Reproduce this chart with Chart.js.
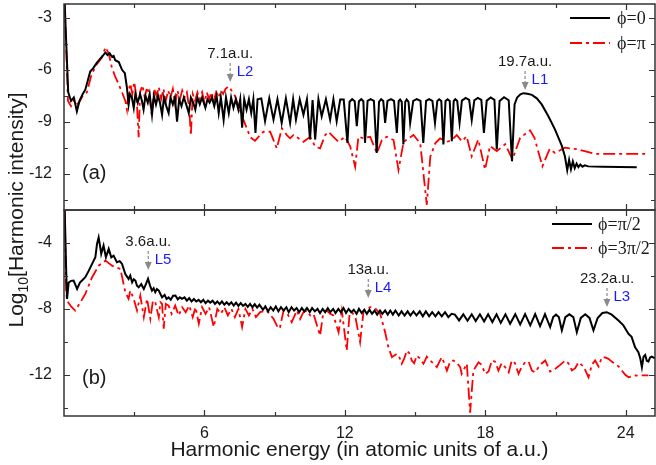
<!DOCTYPE html>
<html>
<head>
<meta charset="utf-8">
<script src="https://cdn.jsdelivr.net/npm/chart.js@4/dist/chart.umd.min.js"></script>
<style>
  html, body { margin: 0; padding: 0; background: #fff; }
  #wrap { width: 656px; height: 465px; }
</style>
</head>
<body>
<div id="wrap"><canvas id="hhg" width="656" height="465"></canvas></div>
<script>
// harmonic spectra, [energy in a.u., log10 intensity]
const phi0 = [
  [0.03,-2.2],[0.1,-4.6],[0.18,-7.3],[0.3,-7.8],[0.42,-7.6],[0.55,-8.4],[0.66,-7.8],[0.8,-7.4],[0.91,-7.15],[1.0,-6.7],
  [1.12,-6.1],[1.25,-5.9],[1.4,-5.6],[1.55,-5.35],[1.68,-5.15],[1.77,-5.0],[1.86,-5.15],[1.95,-5.05],[2.05,-5.25],[2.12,-5.2],
  [2.19,-5.45],[2.34,-5.55],[2.48,-6.0],[2.6,-6.2],[2.69,-7.05],[2.76,-8.0],
  [2.82,-7.4],[2.9,-7.6],[2.98,-8.2],[3.05,-7.4],[3.15,-7.9],[3.25,-7.4],[3.33,-7.8],[3.4,-8.3],[3.48,-7.5],[3.58,-7.9],
  [3.66,-7.4],[3.76,-8.6],[3.84,-7.5],[3.93,-8.0],[4.02,-7.5],[4.1,-7.9],[4.19,-8.6],[4.27,-7.6],[4.37,-8.1],[4.47,-8.5],
  [4.55,-7.6],[4.65,-8.0],[4.74,-7.6],[4.83,-9.0],[4.92,-7.7],[5.02,-8.1],[5.12,-7.6],[5.22,-8.0],[5.33,-8.5],[5.42,-7.6],
  [5.52,-7.9],[5.61,-8.3],[5.7,-7.6],[5.8,-8.0],[5.9,-7.6],[6.04,-8.2],[6.13,-7.7],[6.22,-7.9],[6.32,-7.6],[6.42,-8.1],
  [6.52,-7.5],[6.61,-8.5],[6.7,-7.6],[6.82,-8.9],[6.92,-7.6],[7.04,-8.5],[7.14,-7.6],[7.24,-8.2],[7.34,-7.7],[7.45,-8.3],
  [7.53,-7.7],[7.61,-9.35],[7.7,-7.7],[7.8,-8.3],[7.9,-7.7],[8.0,-8.5],[8.09,-7.7],[8.18,-9.65],[8.27,-7.7],
  [8.43,-7.65],[8.59,-8.97],[8.77,-7.65],[8.95,-8.88],[9.12,-7.7],[9.3,-9.07],[9.48,-7.65],[9.66,-9.07],[9.79,-7.7],[9.91,-8.88],
  [10.07,-7.7],[10.23,-8.6],[10.38,-7.7],[10.51,-10.03],[10.62,-7.75],[10.73,-10.03],[10.87,-7.7],[11.01,-8.69],[11.19,-7.7],[11.37,-8.88],
  [11.51,-7.7],[11.65,-8.97],[11.8,-7.72],[11.95,-7.72],[12.11,-10.22],[12.2,-7.85],[12.31,-7.7],[12.42,-7.82],[12.51,-9.26],[12.6,-7.82],
  [12.7,-7.7],[12.79,-7.82],[12.86,-10.22],[12.97,-7.8],[13.1,-7.7],[13.24,-7.8],[13.36,-10.8],[13.46,-7.85],[13.55,-7.7],[13.64,-7.8],
  [13.72,-9.07],[13.82,-7.8],[13.97,-7.7],[14.1,-7.8],[14.22,-9.65],[14.3,-7.8],[14.36,-7.72],[14.43,-7.85],[14.5,-10.32],[14.58,-7.85],
  [14.64,-7.72],[14.72,-7.85],[14.79,-9.07],[14.92,-7.8],[15.07,-7.7],[15.23,-7.8],[15.35,-10.22],[15.47,-7.8],[15.6,-7.7],[15.74,-7.8],
  [15.85,-9.07],[15.95,-7.8],[16.03,-7.7],[16.12,-7.8],[16.21,-10.32],[16.3,-7.8],[16.39,-7.7],[16.48,-7.8],[16.57,-10.13],[16.65,-7.8],
  [16.72,-7.7],[16.8,-7.8],[16.9,-9.07],[17.0,-7.78],[17.16,-7.62],[17.31,-7.74],[17.42,-8.9],[17.53,-7.76],[17.68,-7.62],[17.83,-7.74],
  [17.94,-9.65],[18.06,-7.78],[18.23,-7.6],[18.39,-7.74],[18.49,-10.6],[18.61,-7.8],[18.8,-7.58],[19.0,-7.76],[19.14,-11.28],[19.25,-8.0],
  [19.36,-7.6],[19.5,-7.42],[19.63,-7.35],[19.8,-7.38],[19.99,-7.45],[20.2,-7.65],[20.41,-8.0],[20.7,-8.7],[20.98,-9.46],[21.15,-10.0],
  [21.27,-10.4],[21.4,-11.0],[21.5,-11.8],[21.58,-11.2],[21.66,-11.75],[21.74,-11.3],[21.82,-11.68],[21.9,-11.42],[21.98,-11.62],[22.06,-11.47],
  [22.15,-11.6],[22.25,-11.52],[22.4,-11.58],[23.0,-11.6],[24.47,-11.63]
];

const phiPi = [
  [0.03,-2.2],[0.1,-5.0],[0.17,-7.8],[0.3,-8.1],[0.45,-7.7],[0.6,-8.0],[0.8,-7.5],[0.98,-7.3],[1.15,-6.4],[1.34,-5.8],
  [1.5,-5.5],[1.62,-5.3],[1.77,-4.7],[1.91,-5.05],[2.05,-5.9],[2.19,-6.4],[2.34,-6.85],[2.48,-7.3],[2.62,-7.8],[2.69,-8.3],
  [2.75,-7.3],[2.83,-6.8],[2.92,-7.4],[3.0,-6.7],[3.1,-7.6],[3.19,-9.9],[3.25,-7.3],[3.35,-6.9],[3.45,-7.6],[3.55,-7.0],
  [3.65,-7.5],[3.75,-8.6],[3.85,-7.1],[3.95,-7.5],[4.05,-7.0],[4.15,-7.7],[4.25,-7.1],[4.35,-7.8],[4.45,-7.2],[4.55,-7.6],
  [4.65,-7.1],[4.75,-8.0],[4.85,-7.2],[4.95,-7.7],[5.05,-7.2],[5.15,-7.6],[5.25,-7.3],[5.35,-8.2],[5.42,-9.8],[5.5,-7.4],
  [5.6,-7.8],[5.7,-7.3],[5.8,-7.7],[5.9,-7.3],[6.0,-7.9],[6.1,-7.3],[6.2,-7.7],[6.3,-7.3],[6.4,-7.8],[6.5,-7.3],
  [6.6,-7.6],[6.7,-7.2],[6.8,-7.4],[6.9,-7.1],[7.04,-6.96],[7.3,-7.5],[7.61,-8.7],[7.96,-9.9],[8.16,-10.1],
  [8.38,-9.77],[8.52,-9.58],[8.81,-9.58],[8.95,-10.06],[9.09,-10.54],[9.31,-9.38],[9.52,-9.77],[9.66,-9.96],[9.8,-9.77],[10.02,-9.96],
  [10.23,-10.16],[10.52,-9.87],[10.73,-10.44],[10.94,-10.54],[11.16,-9.77],[11.3,-9.58],[11.51,-9.87],[11.73,-10.16],[12.01,-9.87],[12.23,-10.44],
  [12.44,-11.6],[12.58,-9.87],[12.8,-9.96],[13.08,-9.87],[13.37,-10.82],[13.58,-10.06],[13.79,-9.87],[14.08,-10.06],[14.29,-11.79],[14.51,-10.16],
  [14.72,-9.96],[14.93,-9.77],[15.22,-10.25],[15.5,-13.8],[15.65,-11.02],[15.86,-10.25],[16.07,-9.96],[16.36,-10.16],[16.57,-10.06],[16.78,-9.77],
  [17.0,-10.13],[17.2,-9.84],[17.42,-11.0],[17.7,-10.03],[17.99,-11.76],[18.2,-10.4],[18.49,-10.7],[18.85,-10.3],[19.16,-11.18],[19.49,-9.93],
  [19.91,-9.5],[20.1,-9.93],[20.44,-11.57],[20.75,-10.57],[20.98,-10.8],[21.4,-10.5],[21.98,-10.6],[22.7,-10.86],[24.96,-10.86]
];

const phiHalfPi = [
  [0.03,-2.0],[0.09,-5.5],[0.13,-7.4],[0.2,-6.4],[0.3,-6.3],[0.41,-6.28],[0.56,-6.79],[0.68,-6.4],[0.77,-6.28],[0.91,-6.08],
  [1.06,-5.68],[1.2,-5.27],[1.34,-4.87],[1.41,-4.06],[1.48,-3.66],[1.55,-4.27],[1.59,-4.67],[1.69,-4.16],[1.79,-4.87],[1.91,-4.36],
  [2.02,-4.87],[2.12,-4.77],[2.26,-5.17],[2.38,-5.1],[2.48,-5.27],[2.62,-5.88],[2.76,-6.18],[2.83,-5.98],[2.91,-6.39],[2.98,-6.2],
  [3.05,-6.28],[3.12,-6.6],[3.19,-6.69],[3.3,-6.5],[3.41,-6.79],[3.5,-6.5],[3.59,-6.18],[3.68,-6.6],[3.76,-6.89],[3.83,-6.75],
  [3.9,-6.99],[3.97,-6.8],[4.05,-6.89],[4.12,-7.1],[4.19,-7.3],[4.3,-7.15],[4.38,-7.4],[4.47,-7.3],[4.56,-7.45],[4.66,-7.2],
  [4.76,-7.19],[4.86,-7.42],[4.95,-7.3],[5.04,-7.39],[5.15,-7.3],[5.25,-7.5],[5.35,-7.35],[5.45,-7.55],[5.55,-7.4],[5.65,-7.55],
  [5.75,-7.45],[5.85,-7.6],[5.95,-7.45],[6.05,-7.65],[6.15,-7.5],[6.25,-7.62],[6.35,-7.5],[6.45,-7.7],[6.55,-7.55],[6.65,-7.72],
  [6.75,-7.55],[6.85,-7.75],[6.95,-7.6],[7.05,-7.75],[7.15,-7.6],[7.25,-7.8],[7.35,-7.62],[7.45,-7.82],[7.55,-7.65],[7.65,-7.82],
  [7.75,-7.7],[7.85,-7.88],[7.95,-7.7],[8.05,-7.9],[8.15,-7.72],[8.25,-7.92],[8.35,-7.75],
  [8.5,-8.05],[8.6,-7.85],[8.72,-8.15],[8.83,-7.9],[8.94,-8.1],[9.05,-7.85],[9.16,-8.15],[9.27,-7.9],[9.38,-8.1],[9.5,-7.9],
  [9.6,-8.2],[9.72,-7.9],[9.83,-8.1],[9.94,-7.95],[10.05,-8.2],[10.16,-7.95],[10.27,-8.15],[10.38,-7.95],[10.5,-8.2],[10.6,-7.95],
  [10.72,-8.15],[10.83,-8.0],[10.94,-8.25],[11.05,-8.0],[11.16,-8.2],[11.27,-7.95],[11.38,-8.2],[11.5,-8.0],[11.6,-8.25],[11.72,-8.0],
  [11.83,-8.2],[11.94,-7.95],[12.05,-8.25],[12.16,-8.0],[12.27,-8.2],[12.38,-8.05],[12.5,-8.3],[12.6,-8.0],[12.72,-8.25],[12.83,-8.05],
  [12.94,-8.3],[13.05,-8.05],[13.16,-8.3],[13.27,-8.1],[13.38,-8.35],[13.5,-8.1],[13.6,-8.3],[13.72,-8.1],[13.83,-8.35],[13.94,-8.1],
  [14.05,-8.35],[14.16,-8.1],[14.3,-8.4],[14.42,-8.15],[14.55,-8.4],[14.68,-8.15],[14.8,-8.4],[14.93,-8.15],[15.06,-8.4],[15.2,-8.15],
  [15.33,-8.45],[15.46,-8.15],[15.6,-8.45],[15.73,-8.2],[15.87,-8.45],[16.0,-8.2],[16.14,-8.45],[16.28,-8.2],[16.42,-8.5],[16.56,-8.3],
  [16.7,-8.35],[16.88,-8.7],[17.06,-8.33],[17.24,-8.72],[17.42,-8.33],[17.59,-8.74],[17.77,-8.33],[17.95,-8.76],[18.12,-8.33],[18.3,-8.8],
  [18.48,-8.33],[18.66,-8.85],[18.86,-8.33],[19.06,-8.9],[19.28,-8.32],[19.49,-8.95],[19.7,-8.32],[19.92,-9.0],[20.13,-8.32],[20.34,-9.05],
  [20.55,-8.32],[20.77,-9.1],[20.9,-8.5],[21.02,-8.35],[21.14,-8.5],[21.27,-9.3],[21.42,-8.5],[21.59,-8.33],[21.76,-8.5],[21.91,-9.42],
  [22.08,-8.55],[22.27,-8.33],[22.45,-8.55],[22.62,-9.3],[22.8,-8.55],[23.0,-8.25],[23.19,-8.2],[23.4,-8.35],[23.69,-8.71],[23.9,-9.0],
  [24.12,-9.52],[24.25,-9.7],[24.4,-10.33],[24.54,-10.63],[24.62,-11.0],[24.69,-11.54],[24.76,-10.9],[24.83,-10.8],[24.9,-11.15],[24.97,-11.2],
  [25.04,-10.95],[25.11,-10.9],[25.25,-11.0]
];

const phi3HalfPi = [
  [0.03,-2.0],[0.09,-6.89],[0.13,-7.5],[0.3,-7.85],[0.48,-8.1],[0.7,-7.6],[0.91,-7.09],[1.2,-6.08],[1.48,-5.38],[1.77,-5.07],
  [2.05,-5.38],[2.41,-5.58],[2.62,-6.99],[2.76,-7.39],[2.83,-6.89],[2.98,-7.39],[3.12,-8.1],[3.26,-7.19],[3.41,-8.5],[3.55,-7.39],
  [3.69,-8.6],[3.8,-7.5],[3.9,-7.6],[4.05,-8.5],[4.12,-7.6],[4.19,-7.7],[4.26,-9.2],[4.35,-7.7],[4.47,-7.8],[4.6,-8.3],
  [4.75,-7.8],[4.9,-8.4],[5.05,-7.9],[5.2,-8.2],[5.35,-7.8],[5.5,-8.5],[5.62,-7.9],[5.76,-8.9],[5.9,-7.9],[6.05,-8.3],
  [6.2,-7.9],[6.4,-9.1],[6.55,-8.0],[6.7,-8.3],[6.85,-7.9],[7.0,-8.4],[7.15,-8.0],[7.3,-8.5],[7.45,-8.0],[7.61,-9.1],
  [7.75,-8.0],[7.9,-8.4],[8.05,-8.0],[8.2,-8.5],[8.38,-8.2],[8.66,-8.1],[8.95,-8.6],[9.16,-9.2],[9.23,-9.11],[9.38,-8.1],
  [9.55,-8.3],[9.73,-8.81],[9.95,-8.1],[10.09,-8.61],[10.23,-8.2],[10.37,-8.1],[10.52,-8.4],[10.66,-8.3],[10.94,-9.62],[11.08,-8.2],
  [11.23,-8.1],[11.37,-8.3],[11.51,-8.4],[11.73,-9.42],[11.87,-8.1],[12.08,-10.53],[12.2,-8.3],[12.3,-8.2],[12.45,-8.5],[12.65,-10.02],
  [12.8,-8.1],[13.08,-7.9],[13.29,-7.95],[13.51,-8.3],[13.72,-9.42],[13.86,-10.33],[14.01,-10.93],[14.22,-10.73],[14.32,-10.9],[14.43,-11.33],
  [14.54,-11.0],[14.65,-10.53],[14.76,-10.7],[14.86,-11.13],[14.96,-11.3],[15.07,-10.83],[15.2,-11.0],[15.36,-11.33],[15.5,-10.9],[15.64,-11.13],
  [15.78,-11.3],[15.93,-11.54],[16.04,-11.2],[16.14,-10.93],[16.25,-11.3],[16.36,-11.74],[16.5,-11.2],[16.64,-11.13],[16.8,-11.3],[16.93,-11.54],
  [16.99,-11.94],[17.21,-11.33],[17.35,-14.3],[17.49,-11.74],[17.71,-11.24],[17.85,-11.4],[17.99,-11.94],[18.14,-11.8],[18.28,-11.13],[18.42,-11.2],
  [18.56,-11.74],[18.7,-11.3],[18.85,-11.54],[19.0,-11.85],[19.13,-11.13],[19.27,-11.3],[19.42,-11.94],[19.56,-11.5],[19.7,-11.24],[19.85,-11.2],
  [19.99,-11.74],[20.13,-11.85],[20.27,-11.54],[20.42,-11.3],[20.56,-11.13],[20.77,-11.8],[20.98,-11.64],[21.2,-11.4],[21.41,-11.13],[21.55,-11.3],
  [21.7,-11.74],[21.84,-11.6],[21.98,-11.24],[22.2,-11.5],[22.41,-12.15],[22.55,-11.4],[22.69,-11.13],[22.84,-11.5],[22.98,-10.93],[23.12,-10.95],
  [23.26,-11.03],[23.4,-11.2],[23.55,-11.33],[23.7,-11.5],[23.83,-11.74],[23.98,-12.0],[24.12,-12.15],[24.26,-12.1],[24.4,-12.04],[24.55,-12.06],
  [24.69,-12.04],[24.83,-12.04],[24.97,-12.04]
];

// axis ticks
const xTicks = [6, 12, 18, 24];
const xMinor = [3, 9, 15, 21];
const topTicks = [-3, -6, -9, -12];
const topMinor = [-4.5, -7.5, -10.5, -13.5];
const botTicks = [-4, -8, -12];
const botMinor = [-6, -10, -14];

// legend entries per panel
const topLegend = ['ϕ=0', 'ϕ=π'];
const botLegend = ['ϕ=π/2', 'ϕ=3π/2'];

// cutoff markers: energy, value text, tag
const topMarks = [[7.1, '7.1a.u.', 'L2'], [19.7, '19.7a.u.', 'L1']];
const botMarks = [[3.6, '3.6a.u.', 'L5'], [13, '13a.u.', 'L4'], [23.2, '23.2a.u.', 'L3']];

const SANS = '"Liberation Sans", Arial, sans-serif';
const SERIF = '"Liberation Serif", "Times New Roman", serif';
const INK = '#1a1a1a';
const BLACK_LINE = { borderColor: '#000000', borderWidth: 2 };
const RED_LINE = { borderColor: '#ff0000', borderWidth: 1.8, borderDash: [12, 4, 3, 4] };

// arrow tip depth below the panel top, px
const tipDepth = { L1: 86, L2: 78, L3: 97, L4: 88, L5: 60 };

function series(label, pts, yAxisID, style) {
  return Object.assign({
    label: label,
    data: pts.map(p => ({ x: p[0], y: p[1] })),
    xAxisID: 'x',
    yAxisID: yAxisID,
    pointRadius: 0,
    tension: 0,
    fill: false
  }, style);
}

function panelAxis(min, max, ticks, weight) {
  return {
    type: 'linear',
    position: 'left',
    stack: 'panels',
    stackWeight: 1,
    weight: weight,
    min: min,
    max: max,
    grid: { display: false, drawTicks: false },
    border: { display: false },
    ticks: { padding: 12, color: INK, font: { family: SANS, size: 16 }, autoSkip: false },
    afterBuildTicks: s => { s.ticks = ticks.map(v => ({ value: v })); },
    afterFit: s => { s.width = 64; s.paddingTop = 0; s.paddingBottom = 0; }
  };
}

function drawTicks(ctx, x, y, yMajor, yMinor) {
  const L = x.left, R = x.right, T = y.top, B = y.bottom;
  ctx.beginPath();
  const vert = (vals, len) => vals.forEach(v => {
    const px = Math.round(x.getPixelForValue(v)) + 0.5;
    ctx.moveTo(px, T); ctx.lineTo(px, T + len);
    ctx.moveTo(px, B); ctx.lineTo(px, B - len);
  });
  const horiz = (vals, len) => vals.forEach(v => {
    const py = Math.round(y.getPixelForValue(v)) + 0.5;
    ctx.moveTo(L, py); ctx.lineTo(L + len, py);
    ctx.moveTo(R, py); ctx.lineTo(R - len, py);
  });
  vert(xTicks, 6); vert(xMinor, 4);
  horiz(yMajor, 6); horiz(yMinor, 4);
  ctx.stroke();
}

function drawLegend(ctx, labels, lineL, lineR, textX, y0, dy) {
  labels.forEach((lab, i) => {
    const yy = y0 + i * dy;
    const st = i === 0 ? BLACK_LINE : RED_LINE;
    ctx.save();
    ctx.strokeStyle = st.borderColor;
    ctx.lineWidth = st.borderWidth;
    ctx.setLineDash(st.borderDash || []);
    ctx.beginPath(); ctx.moveTo(lineL, yy); ctx.lineTo(lineR, yy); ctx.stroke();
    ctx.restore();
    ctx.fillStyle = INK;
    ctx.font = '18px ' + SERIF;
    ctx.textAlign = 'left';
    ctx.textBaseline = 'middle';
    ctx.fillText(lab, textX, yy + 1);
  });
}

function drawMarks(ctx, x, y, marks) {
  marks.forEach(m => {
    const px = x.getPixelForValue(m[0]);
    const tip = y.top + tipDepth[m[2]];
    ctx.save();
    ctx.strokeStyle = '#8a8a8a';
    ctx.fillStyle = '#8a8a8a';
    ctx.lineWidth = 1.2;
    ctx.setLineDash([3, 2]);
    ctx.beginPath(); ctx.moveTo(px, tip - 19); ctx.lineTo(px, tip - 7); ctx.stroke();
    ctx.setLineDash([]);
    ctx.beginPath();
    ctx.moveTo(px - 3.5, tip - 8); ctx.lineTo(px + 3.5, tip - 8); ctx.lineTo(px, tip);
    ctx.closePath(); ctx.fill();
    ctx.restore();
    ctx.font = '15px ' + SANS;
    ctx.textBaseline = 'middle';
    ctx.textAlign = 'center';
    ctx.fillStyle = INK;
    ctx.fillText(m[1], px, tip - 28);
    ctx.textAlign = 'left';
    ctx.fillStyle = '#1a1aff';
    ctx.fillText(m[2], px + 6.5, tip - 10);
  });
}

const decor = {
  id: 'decor',
  afterDraw(chart) {
    const ctx = chart.ctx;
    const { x, yTop, yBot } = chart.scales;
    ctx.save();

    // panel frames and inward ticks
    ctx.strokeStyle = '#333';
    ctx.lineWidth = 1.5;
    [yTop, yBot].forEach(y => ctx.strokeRect(x.left, y.top, x.right - x.left, y.bottom - y.top));
    ctx.lineWidth = 1.2;
    drawTicks(ctx, x, yTop, topTicks, topMinor);
    drawTicks(ctx, x, yBot, botTicks, botMinor);

    drawLegend(ctx, topLegend, x.right - 85, x.right - 45, x.right - 38, yTop.top + 14, 25);
    drawLegend(ctx, botLegend, x.right - 103, x.right - 63, x.right - 57, yBot.top + 14, 24);

    drawMarks(ctx, x, yTop, topMarks);
    drawMarks(ctx, x, yBot, botMarks);

    // panel tags
    ctx.fillStyle = INK;
    ctx.font = '20px ' + SANS;
    ctx.textAlign = 'left';
    ctx.textBaseline = 'middle';
    ctx.fillText('(a)', x.left + 18, yTop.getPixelForValue(-12));
    ctx.fillText('(b)', x.left + 18, yBot.getPixelForValue(-12.2));

    // x title
    ctx.font = '21px ' + SANS;
    ctx.textAlign = 'center';
    ctx.textBaseline = 'alphabetic';
    ctx.fillText('Harmonic energy (in atomic units of a.u.)', (x.left + x.right) / 2, 456);

    // y title with subscript, rotated
    const big = '21px ' + SANS, small = '14px ' + SANS;
    const parts = [['Log', big, 0], ['10', small, 5], ['[Harmonic intensity]', big, 0]];
    let total = 0;
    parts.forEach(p => { ctx.font = p[1]; total += ctx.measureText(p[0]).width; });
    ctx.translate(23, (yTop.top + yBot.bottom) / 2);
    ctx.rotate(-Math.PI / 2);
    ctx.textAlign = 'left';
    let u = -total / 2;
    parts.forEach(p => {
      ctx.font = p[1];
      ctx.fillText(p[0], u, p[2]);
      u += ctx.measureText(p[0]).width;
    });
    ctx.restore();
  }
};

new Chart(document.getElementById('hhg'), {
  type: 'line',
  data: {
    datasets: [
      series(topLegend[0], phi0, 'yTop', BLACK_LINE),
      series(topLegend[1], phiPi, 'yTop', RED_LINE),
      series(botLegend[0], phiHalfPi, 'yBot', BLACK_LINE),
      series(botLegend[1], phi3HalfPi, 'yBot', RED_LINE)
    ]
  },
  options: {
    responsive: false,
    devicePixelRatio: 1,
    animation: false,
    events: [],
    layout: { padding: { top: 4, right: 1, left: 0, bottom: 0 } },
    plugins: { legend: { display: false }, tooltip: { enabled: false } },
    scales: {
      x: {
        type: 'linear',
        position: 'bottom',
        min: 0,
        max: 25.25,
        grid: { display: false, drawTicks: false },
        border: { display: false },
        ticks: { padding: 8, color: INK, font: { family: SANS, size: 16 }, autoSkip: false, maxRotation: 0 },
        afterBuildTicks: s => { s.ticks = xTicks.map(v => ({ value: v })); },
        afterFit: s => { s.height = 49; s.paddingLeft = 0; s.paddingRight = 0; }
      },
      yTop: panelAxis(-14.1, -2.2, topTicks, 2),
      yBot: panelAxis(-14.5, -2, botTicks, 1)
    }
  },
  plugins: [decor]
});
</script>
</body>
</html>
